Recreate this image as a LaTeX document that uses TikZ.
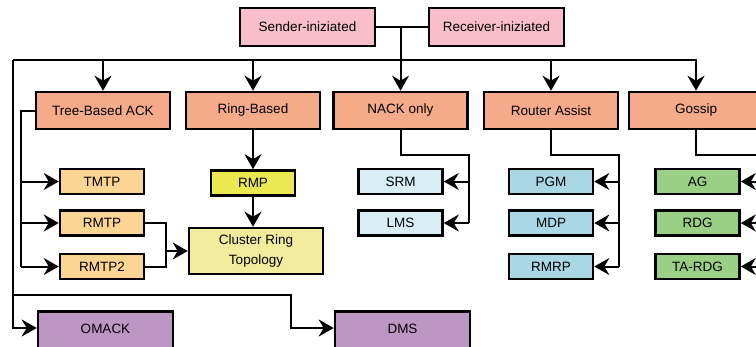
\documentclass[tikz,border=0pt]{standalone}
\usepackage{fontspec}
\setmainfont{Liberation Sans}
\usetikzlibrary{arrows.meta}
\definecolor{cpink}{HTML}{F8BFCB}
\definecolor{csalmon}{HTML}{F5AB8A}
\definecolor{corange}{HTML}{FCD592}
\definecolor{cyellow}{HTML}{ECE852}
\definecolor{cpale}{HTML}{F0EC9C}
\definecolor{ccyan}{HTML}{D7EEF5}
\definecolor{cblue}{HTML}{A9D7E5}
\definecolor{cgreen}{HTML}{9ACF86}
\definecolor{cpurple}{HTML}{BD97C4}
\begin{document}
\begin{tikzpicture}[x=1bp,y=-1bp,
  box/.style={draw, line width=2.6bp, inner sep=0pt, align=center,
    font=\fontsize{13.5bp}{20bp}\selectfont},
  topbox/.style={box, minimum width=134bp, minimum height=37bp, fill=csalmon},
  leaf/.style={box, minimum width=84bp, minimum height=25bp},
  wire/.style={line width=2bp},
  arr/.style={wire, -{Stealth[length=15bp,width=17bp,inset=5bp]}}]
\clip (0,0) rectangle (756,346);

% origin of the taxonomy
\node[box, fill=cpink, minimum width=135bp, minimum height=38bp] (send) at (307.5,27) {Sender-iniziated};
\node[box, fill=cpink, minimum width=135bp, minimum height=38bp] (recv) at (496.5,27) {Receiver-iniziated};

% first level
\node[topbox] (tree)   at (103,110.5) {Tree-Based ACK};
\node[topbox] (ring)   at (253,110.5) {Ring-Based};
\node[topbox] (nack)   at (400.5,110.5) {NACK only};
\node[topbox] (router) at (551,110.5) {Router Assist};
\node[topbox] (gossip) at (696,110.5) {Gossip};

% tree-based protocols
\node[leaf, fill=corange] (tmtp)  at (102,181.5) {TMTP};
\node[leaf, fill=corange] (rmtp)  at (102,223) {RMTP};
\node[leaf, fill=corange] (rmtp2) at (102,266.5) {RMTP2};

% ring-based protocols
\node[leaf, fill=cyellow] (rmp) at (253,183) {RMP};
\node[box, fill=cpale, minimum width=134bp, minimum height=46bp] (cluster) at (256,251) {Cluster Ring\\Topology};

% NACK-only protocols
\node[leaf, fill=ccyan] (srm) at (400.5,181.5) {SRM};
\node[leaf, fill=ccyan] (lms) at (400.5,223) {LMS};

% router-assisted protocols
\node[leaf, fill=cblue] (pgm)  at (551,181.5) {PGM};
\node[leaf, fill=cblue] (mdp)  at (551,223) {MDP};
\node[leaf, fill=cblue] (rmrp) at (551,266.5) {RMRP};

% gossip protocols
\node[leaf, fill=cgreen] (ag)    at (697.5,181.5) {AG};
\node[leaf, fill=cgreen] (rdg)   at (697.5,223) {RDG};
\node[leaf, fill=cgreen] (tardg) at (697.5,266.5) {TA-RDG};

% bottom row
\node[box, fill=cpurple, anchor=north, minimum width=135bp, text height=22bp, text depth=26bp] (omack) at (105.5,310) {OMACK};
\node[box, fill=cpurple, anchor=north, minimum width=135bp, text height=22bp, text depth=26bp] (dms) at (402.5,310) {DMS};

% junction points
\coordinate (busL) at (13,60);
\coordinate (busR) at (697,60);
\coordinate (drop) at (13,295);
\coordinate (treeL) at (21,110.5);
\coordinate (merge) at (166,251);
\coordinate (nackR) at (469,155);
\coordinate (routR) at (619,155);
\coordinate (gosR) at (764,155);

% top links
\draw[wire] (send.east) -- (recv.west);
\draw[arr] (nack.north |- send.east) -- (nack.north);
\draw[wire] (busL) -- (busR);
\foreach \n in {tree,ring,router,gossip}
  \draw[arr] (\n.north |- busL) -- (\n.north);

% left trunk to the bottom row
\draw[arr] (busL) |- ([yshift=-18bp]omack.north west);
\draw[arr] (drop) -| ([xshift=-43bp,yshift=-18bp]dms.north west) -- ([yshift=-18bp]dms.north west);

% tree-based branch
\draw[wire] (tree.west) -- (treeL) -- (treeL |- rmtp2.west);
\foreach \n in {tmtp,rmtp,rmtp2}
  \draw[arr] (treeL |- \n.west) -- (\n.west);
\draw[wire] (rmtp.east) -| (merge);
\draw[wire] (rmtp2.east) -| (merge);
\draw[arr] (merge) -- (cluster.west |- merge);

% ring-based branch
\draw[arr] (ring.south) -- (rmp.north);
\draw[arr] (rmp.south) -- (rmp.south |- cluster.north);

% NACK-only branch
\draw[wire] (nack.south) |- (nackR) -- (nackR |- lms.east);
\foreach \n in {srm,lms}
  \draw[arr] (nackR |- \n.east) -- (\n.east);

% router-assisted branch
\draw[wire] (router.south) |- (routR) -- (routR |- rmrp.east);
\foreach \n in {pgm,mdp,rmrp}
  \draw[arr] (routR |- \n.east) -- (\n.east);

% gossip branch
\draw[wire] (gossip.south) |- (gosR) -- (gosR |- tardg.east);
\foreach \n in {ag,rdg,tardg}
  \draw[arr] (gosR |- \n.east) -- (\n.east);
\end{tikzpicture}
\end{document}
